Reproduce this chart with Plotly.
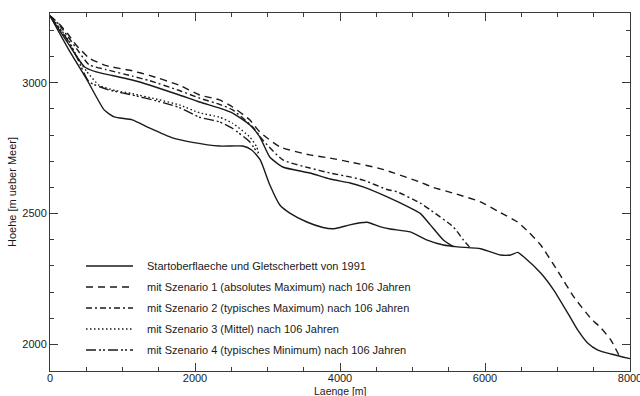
import plotly.graph_objects as go

# ---- data ----
bed_x = [0, 250, 512, 747, 886, 1135, 1370, 1689, 1965, 2339, 2657, 2782, 2900, 3031, 3170, 3308, 3543, 3765, 3900, 4000, 4150, 4374, 4550, 4692, 4969, 5204, 5426, 5619, 5938, 6076, 6215, 6353, 6450, 6533, 6768, 6948, 7142, 7280, 7419, 7557, 7737, 8000]
bed_y = [3255, 3130, 3010, 2896, 2869, 2858, 2827, 2789, 2772, 2758, 2758, 2743, 2705, 2610, 2533, 2502, 2468, 2447, 2442, 2447, 2458, 2467, 2450, 2441, 2430, 2399, 2380, 2373, 2366, 2354, 2342, 2342, 2352, 2335, 2273, 2208, 2120, 2055, 2005, 1979, 1964, 1946]

surf_x = [0, 250, 470, 637, 817, 1135, 1370, 1785, 2062, 2339, 2519, 2754, 2893, 3031, 3211, 3585, 3862, 4138, 4318, 4651, 4969, 5107, 5246, 5426, 5564]
surf_y = [3255, 3150, 3062, 3041, 3030, 3010, 2991, 2953, 2926, 2903, 2884, 2839, 2793, 2716, 2678, 2655, 2632, 2617, 2602, 2564, 2522, 2501, 2457, 2399, 2373]

s1_x = [0, 125, 250, 360, 540, 775, 1135, 1370, 1785, 2062, 2339, 2519, 2754, 2893, 3170, 3585, 3862, 4138, 4554, 5107, 5287, 5600, 5938, 6173, 6450, 6600, 6768, 7004, 7225, 7460, 7600, 7737, 7850]
s1_y = [3255, 3225, 3185, 3144, 3094, 3065, 3045, 3028, 2990, 2953, 2934, 2907, 2858, 2812, 2755, 2724, 2712, 2697, 2672, 2620, 2600, 2575, 2545, 2510, 2468, 2430, 2380, 2280, 2182, 2100, 2063, 2017, 1958]

s2_x = [0, 125, 250, 400, 540, 775, 1135, 1370, 1785, 2062, 2339, 2519, 2796, 2934, 3211, 3585, 3862, 4138, 4318, 4651, 4789, 5107, 5246, 5564, 5702, 5799]
s2_y = [3255, 3222, 3175, 3117, 3068, 3050, 3025, 3008, 2970, 2941, 2917, 2896, 2831, 2781, 2705, 2674, 2655, 2640, 2628, 2592, 2583, 2540, 2514, 2449, 2399, 2369]

s3_x = [0, 250, 360, 500, 678, 900, 1135, 1500, 1785, 2062, 2339, 2519, 2754, 2851, 2880]
s3_y = [3255, 3165, 3105, 3045, 2990, 2970, 2958, 2935, 2915, 2885, 2868, 2845, 2793, 2755, 2725]

s4_x = [0, 250, 375, 540, 817, 1135, 1500, 1785, 2062, 2339, 2519, 2754, 2865]
s4_y = [3255, 3160, 3094, 3003, 2972, 2953, 2928, 2905, 2868, 2850, 2825, 2774, 2730]

x_ticks = [0, 2000, 4000, 6000, 8000]
y_ticks = [2000, 2500, 3000]

legend_labels = [
    "Startoberflaeche und Gletscherbett von 1991",
    "mit Szenario 1 (absolutes Maximum) nach 106 Jahren",
    "mit Szenario 2 (typisches Maximum) nach 106 Jahren",
    "mit Szenario 3 (Mittel) nach 106 Jahren",
    "mit Szenario 4 (typisches Minimum) nach 106 Jahren",
]

# ---- styling ----
INK = "#1a1a1a"
AX = "#3a3a3a"
FONT = "Liberation Sans, Arial, sans-serif"
DASH_SOLID = "solid"
DASH_S1 = "7px,5px"
DASH_S2 = "6px,3px,2px,3px"
DASH_S3 = "1.5px,2.5px"
DASH_S4 = "10px,3px,2px,2px,2px,3px"
legend_dashes = [DASH_SOLID, DASH_S1, DASH_S2, DASH_S3, DASH_S4]

W, H = 640, 396
L, R, T, B = 50, 10, 13, 25
PW, PH = W - L - R, H - T - B


def px(xp):
    return (xp - L) / PW


def py(yp):
    return (H - B - yp) / PH


fig = go.Figure()
series = [
    (bed_x, bed_y, DASH_SOLID),
    (surf_x, surf_y, DASH_SOLID),
    (s1_x, s1_y, DASH_S1),
    (s2_x, s2_y, DASH_S2),
    (s3_x, s3_y, DASH_S3),
    (s4_x, s4_y, DASH_S4),
]
for xs, ys, dash in series:
    fig.add_trace(go.Scatter(
        x=xs, y=ys, mode="lines", showlegend=False, hoverinfo="skip",
        line=dict(color=INK, width=1.4, dash=dash, shape="spline", smoothing=0.5),
    ))

# manual legend
rows_y = [266, 287, 308, 329, 350]
for lab, dash, ry in zip(legend_labels, legend_dashes, rows_y):
    fig.add_shape(type="line", xref="paper", yref="paper",
                  x0=px(86), x1=px(133), y0=py(ry), y1=py(ry),
                  line=dict(color=INK, width=1.4, dash=dash))
    fig.add_annotation(xref="paper", yref="paper", x=px(145), y=py(ry),
                       text=lab, showarrow=False, xanchor="left", yanchor="middle",
                       font=dict(size=11, color=INK, family=FONT))

# axis titles
fig.add_annotation(xref="paper", yref="paper", x=0.5, y=py(390.5), text="Laenge [m]",
                   showarrow=False, xanchor="center", yanchor="middle",
                   font=dict(size=10.5, color=INK, family=FONT))
fig.add_annotation(xref="paper", yref="paper", x=px(12), y=py(192), text="Hoehe [m ueber Meer]",
                   showarrow=False, textangle=-90, xanchor="center", yanchor="middle",
                   font=dict(size=11, color=INK, family=FONT))

axis_common = dict(
    showgrid=False, zeroline=False, showline=True, linecolor=AX, linewidth=1,
    mirror="allticks", ticks="inside", ticklen=8, tickcolor=AX, tickwidth=1,
    tickfont=dict(size=11, color=INK, family=FONT), ticklabeloverflow="allow",
)
fig.update_xaxes(range=[0, 8000.01], tickvals=x_ticks, ticktext=[str(v) for v in x_ticks],
                 minor=dict(dtick=500, ticklen=4, ticks="inside", tickcolor=AX, tickwidth=1),
                 ticklabelstandoff=-3, **axis_common)
fig.update_yaxes(range=[1899, 3266], tickvals=y_ticks, ticktext=[str(v) for v in y_ticks],
                 minor=dict(dtick=100, ticklen=4, ticks="inside", tickcolor=AX, tickwidth=1),
                 **axis_common)
fig.update_layout(
    width=W, height=H, margin=dict(l=L, r=R, t=T, b=B, autoexpand=False),
    paper_bgcolor="white", plot_bgcolor="white",
    font=dict(family=FONT, size=11, color=INK),
)
fig.write_html("out.html", config={"displayModeBar": False},
               post_script="document.body.style.margin='0';document.body.style.padding='0';")
